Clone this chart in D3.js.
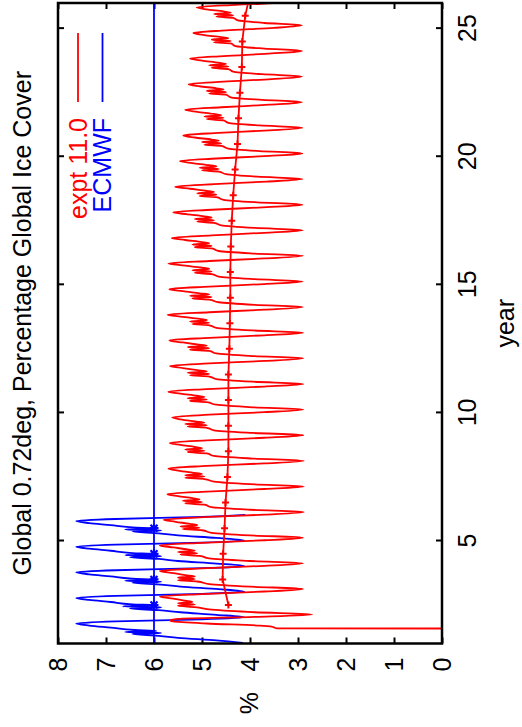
<!DOCTYPE html>
<html><head><meta charset="utf-8">
<script src="https://cdn.jsdelivr.net/npm/d3@7"></script>
<style>body{margin:0;background:#fff} svg{display:block}</style>
</head><body>
<svg id="c" width="522" height="727"></svg>
<script>
// ---------------- data ----------------
const titleText = "Global 0.72deg, Percentage Global Ice Cover";
const xLabel = "year";
const yLabel = "%";
const yearTicks = [5, 10, 15, 20, 25];
const valueTicks = [0, 1, 2, 3, 4, 5, 6, 7, 8];
const seriesNames = ["expt 11.0", "ECMWF"];

// expt 11.0 (red): spin-up segment
const redStartT = [1.585, 1.59, 1.66, 1.70, 1.78, 1.86, 1.91, 1.96, 2.04];
const redStartV = [0.0, 3.44, 3.55, 3.8, 4.9, 5.6, 5.67, 5.5, 3.9];
// seasonal sample points inside each year (fraction of year)
const redPhase = [0.13, 0.22, 0.32, 0.42, 0.47, 0.52, 0.57, 0.62, 0.67, 0.75, 0.83, 0.93, 1.03];
const redYears = [2,3,4,5,6,7,8,9,10,11,12,13,14,15,16,17,18,19,20,21,22,23,24,25];
const redCycles = [
  [2.70, 3.9, 4.8, 5.15, 5.5, 5.15, 5.5, 5.2, 5.35, 5.6, 5.88, 5.0, 3.7],
  [2.90, 4.0, 4.85, 5.1, 5.5, 5.15, 5.5, 5.15, 5.35, 5.6, 5.88, 5.0, 3.7],
  [2.90, 4.0, 4.85, 5.05, 5.45, 5.1, 5.5, 5.15, 5.3, 5.6, 5.88, 5.0, 3.7],
  [2.90, 4.0, 4.8, 5.0, 5.4, 5.05, 5.45, 5.1, 5.25, 5.55, 5.80, 4.95, 3.7],
  [2.88, 4.0, 4.8, 4.95, 5.35, 5.0, 5.4, 5.05, 5.2, 5.5, 5.72, 4.9, 3.7],
  [2.88, 4.0, 4.75, 4.95, 5.35, 4.95, 5.35, 5.0, 5.2, 5.5, 5.70, 4.9, 3.7],
  [2.88, 3.95, 4.75, 4.9, 5.3, 4.95, 5.35, 5.0, 5.15, 5.45, 5.67, 4.9, 3.7],
  [2.89, 3.95, 4.75, 4.9, 5.3, 4.9, 5.35, 4.95, 5.15, 5.45, 5.62, 4.85, 3.7],
  [2.89, 3.95, 4.7, 4.9, 5.25, 4.9, 5.3, 4.95, 5.1, 5.45, 5.70, 4.9, 3.7],
  [2.89, 3.95, 4.7, 4.85, 5.25, 4.85, 5.3, 4.9, 5.1, 5.4, 5.67, 4.85, 3.7],
  [2.89, 3.95, 4.7, 4.85, 5.25, 4.85, 5.3, 4.9, 5.1, 5.4, 5.68, 4.85, 3.7],
  [2.89, 3.95, 4.7, 4.85, 5.2, 4.85, 5.25, 4.9, 5.05, 5.4, 5.72, 4.85, 3.7],
  [2.90, 3.9, 4.65, 4.85, 5.2, 4.8, 5.25, 4.85, 5.05, 5.4, 5.68, 4.85, 3.7],
  [2.90, 3.9, 4.65, 4.8, 5.15, 4.8, 5.2, 4.85, 5.0, 5.35, 5.70, 4.85, 3.7],
  [2.90, 3.9, 4.65, 4.8, 5.15, 4.8, 5.2, 4.85, 5.0, 5.35, 5.63, 4.8, 3.7],
  [2.90, 3.9, 4.6, 4.75, 5.1, 4.75, 5.15, 4.8, 4.95, 5.3, 5.60, 4.8, 3.65],
  [2.91, 3.85, 4.55, 4.7, 5.05, 4.7, 5.1, 4.75, 4.9, 5.25, 5.56, 4.75, 3.65],
  [2.91, 3.85, 4.5, 4.65, 5.0, 4.65, 5.05, 4.7, 4.85, 5.2, 5.46, 4.7, 3.6],
  [2.91, 3.8, 4.45, 4.6, 4.95, 4.6, 5.0, 4.65, 4.8, 5.15, 5.39, 4.65, 3.6],
  [2.91, 3.8, 4.45, 4.55, 4.9, 4.55, 4.95, 4.6, 4.75, 5.1, 5.35, 4.6, 3.6],
  [2.92, 3.75, 4.4, 4.5, 4.85, 4.5, 4.9, 4.55, 4.7, 5.05, 5.28, 4.55, 3.55],
  [2.92, 3.75, 4.35, 4.45, 4.8, 4.45, 4.85, 4.5, 4.65, 5.0, 5.25, 4.55, 3.55],
  [2.92, 3.7, 4.3, 4.4, 4.75, 4.4, 4.8, 4.45, 4.6, 4.95, 5.18, 4.5, 3.5],
  [2.92, 3.7, 4.25, 4.35, 4.7, 4.35, 4.75, 4.4, 4.55, 4.9, 5.11, 4.3, 3.1]
];
const redEndT = [26.13];
const redEndV = [2.92];
// expt 11.0 annual means
const redMeanT = [2.5,3.5,4.5,5.5,6.5,7.5,8.5,9.5,10.5,11.5,12.5,13.5,14.5,15.5,16.5,17.5,18.5,19.5,20.5,21.5,22.5,23.5,24.5,25.5,26.5];
const redMeanV = [4.45,4.57,4.56,4.53,4.51,4.47,4.45,4.45,4.45,4.45,4.43,4.42,4.41,4.41,4.40,4.38,4.35,4.31,4.26,4.24,4.21,4.17,4.16,4.10,3.98];

// ECMWF (blue)
const bluePhase = [0.02, 0.12, 0.22, 0.30, 0.37, 0.41, 0.45, 0.49, 0.53, 0.62, 0.70, 0.78, 0.86, 0.94];
const blueYears = [1, 2, 3, 4, 5];
const blueCycles = [
  [4.15, 4.7, 5.5, 5.9, 6.45, 5.85, 6.6, 5.95, 6.4, 6.9, 7.35, 7.62, 6.8, 5.0],
  [4.12, 4.7, 5.45, 5.9, 6.5, 5.85, 6.65, 5.95, 6.45, 6.9, 7.35, 7.62, 6.8, 5.0],
  [4.12, 4.65, 5.45, 5.85, 6.45, 5.85, 6.6, 5.95, 6.45, 6.9, 7.35, 7.62, 6.8, 5.0],
  [4.12, 4.7, 5.5, 5.9, 6.5, 5.85, 6.6, 6.0, 6.45, 6.9, 7.35, 7.62, 6.8, 5.0],
  [4.12, 4.7, 5.5, 5.9, 6.45, 5.85, 6.6, 5.95, 6.45, 6.9, 7.35, 7.62, 6.8, 5.0]
];
const blueEndT = [6.02];
const blueEndV = [4.1];
const blueMeanT = [2.5, 3.5, 4.5, 5.5];
const blueMeanV = [6.0, 6.0, 6.0, 6.0];
const blueRefT = [1, 26];
const blueRefV = [6.0, 6.0];

// ---------------- build ----------------
function build(startT, startV, years, phase, cycles, endT, endV) {
  const pts = [];
  startT.forEach((t, i) => pts.push([t, startV[i]]));
  years.forEach((yr, k) => phase.forEach((p, j) => pts.push([yr + p, cycles[k][j]])));
  endT.forEach((t, i) => pts.push([t, endV[i]]));
  return pts;
}
const redPts = build(redStartT, redStartV, redYears, redPhase, redCycles, redEndT, redEndV);
const bluePts = build([], [], blueYears, bluePhase, blueCycles, blueEndT, blueEndV);
const redMean = redMeanT.map((t, i) => [t, redMeanV[i]]);
const blueMean = blueMeanT.map((t, i) => [t, blueMeanV[i]]);
const blueRef = blueRefT.map((t, i) => [t, blueRefV[i]]);

const RED = "#ff0000", BLUE = "#0000ff";
const FONT = "'Liberation Sans', Arial, Helvetica, sans-serif";
const FS = 25;

const svg = d3.select("#c");
// local frame: rotated so the chart reads sideways
const g = svg.append("g").attr("transform", "translate(0,727) rotate(-90)");

const L = 83.5, R = 724, T = 58, B = 442;
const x = d3.scaleLinear().domain([1, 26]).range([L, R]);
const y = d3.scaleLinear().domain([0, 8]).range([B, T]);

g.append("defs").append("clipPath").attr("id", "clip")
  .append("rect").attr("x", L).attr("y", T).attr("width", R - L).attr("height", B - T);

function styleAxis(a) {
  a.attr("font-family", FONT).attr("font-size", FS);
  a.select(".domain").remove();
  a.selectAll(".tick line").attr("stroke", "#000").attr("stroke-width", 2);
  a.selectAll("text").attr("fill", "#000").attr("font-family", FONT).attr("font-size", FS);
}
const ax1 = g.append("g").attr("transform", `translate(0,${B})`)
  .call(d3.axisBottom(x).tickValues(yearTicks).tickSize(-6).tickPadding(15).tickFormat(d3.format("d")));
styleAxis(ax1);
ax1.selectAll(".tick text").attr("y", 34).attr("dy", "0px");
const ax2 = g.append("g").attr("transform", `translate(0,${T})`)
  .call(d3.axisTop(x).tickValues(yearTicks).tickSize(-6).tickFormat(""));
styleAxis(ax2);
const ay1 = g.append("g").attr("transform", `translate(${L},0)`)
  .call(d3.axisLeft(y).tickValues(valueTicks).tickSize(-6).tickPadding(14).tickFormat(d3.format("d")));
styleAxis(ay1);
ay1.selectAll(".tick text").attr("dy", "8.5px");
const ay2 = g.append("g").attr("transform", `translate(${R},0)`)
  .call(d3.axisRight(y).tickValues(valueTicks).tickSize(-6).tickFormat(""));
styleAxis(ay2);

const data = g.append("g").attr("clip-path", "url(#clip)");
const lineSmooth = d3.line().x(d => x(d[0])).y(d => y(d[1])).curve(d3.curveMonotoneX);
const lineStraight = d3.line().x(d => x(d[0])).y(d => y(d[1]));

data.append("path").attr("d", lineStraight(blueRef)).attr("fill", "none").attr("stroke", BLUE).attr("stroke-width", 1.8);
data.append("path").attr("d", lineSmooth(bluePts)).attr("fill", "none").attr("stroke", BLUE).attr("stroke-width", 1.8).attr("stroke-linejoin", "round");
data.append("path").attr("d", lineSmooth(redPts)).attr("fill", "none").attr("stroke", RED).attr("stroke-width", 1.8).attr("stroke-linejoin", "round");
data.append("path").attr("d", lineStraight(redMean)).attr("fill", "none").attr("stroke", RED).attr("stroke-width", 1.8);

// markers
data.selectAll(".rp").data(redMean).join("path")
  .attr("transform", d => `translate(${x(d[0])},${y(d[1])})`)
  .attr("d", "M-3.5,0H3.5M0,-3.5V3.5").attr("stroke", RED).attr("stroke-width", 2).attr("fill", "none");
data.selectAll(".bp").data(blueMean).join("path")
  .attr("transform", d => `translate(${x(d[0])},${y(d[1])})`)
  .attr("d", "M-4.5,0H4.5M0,-4.5V4.5M-3.5,-3.5L3.5,3.5M-3.5,3.5L3.5,-3.5").attr("stroke", BLUE).attr("stroke-width", 2.2).attr("fill", "none");

// frame
g.append("rect").attr("x", L).attr("y", T).attr("width", R - L).attr("height", B - T)
  .attr("fill", "none").attr("stroke", "#000").attr("stroke-width", 2.5);

// labels
const txt = (s, xx, yy, anchor, color) => g.append("text").text(s).attr("x", xx).attr("y", yy)
  .attr("text-anchor", anchor).attr("fill", color || "#000").attr("font-family", FONT).attr("font-size", FS);
txt(titleText, (L + R) / 2, 31, "middle");
txt(xLabel, (L + R) / 2, 514, "middle");
txt(yLabel, 24, 258, "middle");

// legend
const colors = [RED, BLUE];
seriesNames.forEach((s, i) => {
  const vy = 78 + i * 24.5;
  txt(s, 609, vy + 8.5, "end", colors[i]);
  g.append("line").attr("x1", 625).attr("x2", 694).attr("y1", vy).attr("y2", vy)
    .attr("stroke", colors[i]).attr("stroke-width", 1.8);
});
</script>
</body></html>
